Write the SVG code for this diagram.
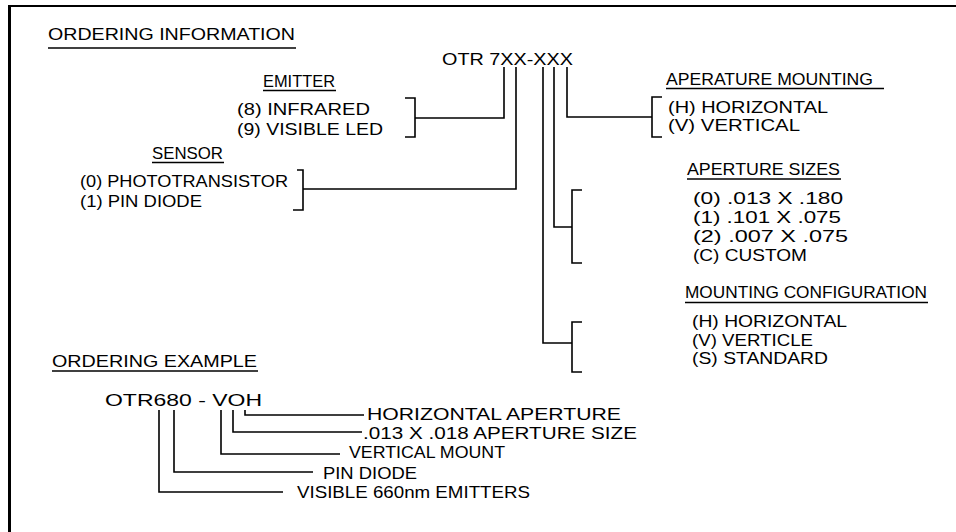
<svg xmlns="http://www.w3.org/2000/svg" width="956" height="532" viewBox="0 0 956 532">
<style>
text { font-family: "Liberation Sans", Arial, sans-serif; font-size: 16.5px; fill: #000; }
.ln { stroke: #000; stroke-width: 1.6; fill: none; }
.ul { stroke: #000; stroke-width: 1.5; fill: none; }
</style>
<rect width="956" height="532" fill="#fff"/>
<g id="frame" stroke="#000" fill="none">
  <line x1="8" y1="6" x2="956" y2="6" stroke-width="2"/>
  <line x1="9.5" y1="5" x2="9.5" y2="532" stroke-width="3"/>
</g>
<g id="title-info">
  <text x="48" y="40" textLength="247" lengthAdjust="spacingAndGlyphs">ORDERING INFORMATION</text>
  <line class="ul" x1="48" y1="48" x2="296" y2="48"/>
</g>
<g id="part-number">
  <text x="442" y="65" textLength="131" lengthAdjust="spacingAndGlyphs">OTR 7XX-XXX</text>
</g>
<g id="emitter">
  <text x="263" y="87" textLength="72" lengthAdjust="spacingAndGlyphs">EMITTER</text>
  <line class="ul" x1="263" y1="90.5" x2="336" y2="90.5"/>
  <text x="237" y="115" textLength="133" lengthAdjust="spacingAndGlyphs">(8) INFRARED</text>
  <text x="237" y="135" textLength="146" lengthAdjust="spacingAndGlyphs">(9) VISIBLE LED</text>
  <path class="ln" d="M405,98 H415 V137 H405"/>
</g>
<g id="sensor">
  <text x="152" y="159" textLength="71" lengthAdjust="spacingAndGlyphs">SENSOR</text>
  <line class="ul" x1="152" y1="162.5" x2="224" y2="162.5"/>
  <text x="80" y="187" textLength="208" lengthAdjust="spacingAndGlyphs">(0) PHOTOTRANSISTOR</text>
  <text x="80" y="207" textLength="122" lengthAdjust="spacingAndGlyphs">(1) PIN DIODE</text>
  <path class="ln" d="M297,170 H303 V210 H293"/>
</g>
<g id="aperture-mounting">
  <text x="666" y="85" textLength="207" lengthAdjust="spacingAndGlyphs">APERATURE MOUNTING</text>
  <line class="ul" x1="666" y1="88.5" x2="884" y2="88.5"/>
  <text x="668" y="113" textLength="160" lengthAdjust="spacingAndGlyphs">(H) HORIZONTAL</text>
  <text x="668" y="131" textLength="132" lengthAdjust="spacingAndGlyphs">(V) VERTICAL</text>
  <path class="ln" d="M662,97 H652 V137 H662"/>
</g>
<g id="aperture-sizes">
  <text x="687" y="175" textLength="153" lengthAdjust="spacingAndGlyphs">APERTURE SIZES</text>
  <line class="ul" x1="687" y1="179" x2="841" y2="179"/>
  <text x="693" y="204" textLength="150" lengthAdjust="spacingAndGlyphs">(0) .013 X .180</text>
  <text x="693" y="223" textLength="148" lengthAdjust="spacingAndGlyphs">(1) .101 X .075</text>
  <text x="693" y="242" textLength="155" lengthAdjust="spacingAndGlyphs">(2) .007 X .075</text>
  <text x="693" y="261" textLength="114" lengthAdjust="spacingAndGlyphs">(C) CUSTOM</text>
  <path class="ln" d="M582,190 H572 V263 H582"/>
</g>
<g id="mounting-configuration">
  <text x="685" y="298" textLength="242" lengthAdjust="spacingAndGlyphs">MOUNTING CONFIGURATION</text>
  <line class="ul" x1="685" y1="302.5" x2="928" y2="302.5"/>
  <text x="692" y="327" textLength="155" lengthAdjust="spacingAndGlyphs">(H) HORIZONTAL</text>
  <text x="692" y="346" textLength="121" lengthAdjust="spacingAndGlyphs">(V) VERTICLE</text>
  <text x="692" y="364" textLength="136" lengthAdjust="spacingAndGlyphs">(S) STANDARD</text>
  <path class="ln" d="M582,322 H572 V372 H582"/>
</g>
<g id="title-example">
  <text x="52" y="367" textLength="205" lengthAdjust="spacingAndGlyphs">ORDERING EXAMPLE</text>
  <line class="ul" x1="52" y1="371" x2="258" y2="371"/>
</g>
<g id="example-code">
  <text x="105" y="406" textLength="157" lengthAdjust="spacingAndGlyphs">OTR680 - VOH</text>
</g>
<g id="example-horizontal">
  <text x="367" y="420" textLength="254" lengthAdjust="spacingAndGlyphs">HORIZONTAL APERTURE</text>
</g>
<g id="example-size">
  <text x="363" y="439" textLength="274" lengthAdjust="spacingAndGlyphs">.013 X .018 APERTURE SIZE</text>
</g>
<g id="example-vertical">
  <text x="349" y="458" textLength="156" lengthAdjust="spacingAndGlyphs">VERTICAL MOUNT</text>
</g>
<g id="example-pin">
  <text x="323" y="479" textLength="94" lengthAdjust="spacingAndGlyphs">PIN DIODE</text>
</g>
<g id="example-visible">
  <text x="297" y="498" textLength="233" lengthAdjust="spacingAndGlyphs">VISIBLE 660nm EMITTERS</text>
</g>
<g id="connectors">
  <path class="ln" d="M504,67 V118 H415"/>
  <path class="ln" d="M516,67 V189 H303"/>
  <path class="ln" d="M567,67 V117 H652"/>
  <path class="ln" d="M554,67 V227 H572"/>
  <path class="ln" d="M543,67 V343 H572"/>
  <path class="ln" d="M245,410 V415 H364"/>
  <path class="ln" d="M233,410 V432 H362"/>
  <path class="ln" d="M221,410 V454 H340"/>
  <path class="ln" d="M174,410 V472 H313"/>
  <path class="ln" d="M159,410 V492 H283"/>
</g>
</svg>
